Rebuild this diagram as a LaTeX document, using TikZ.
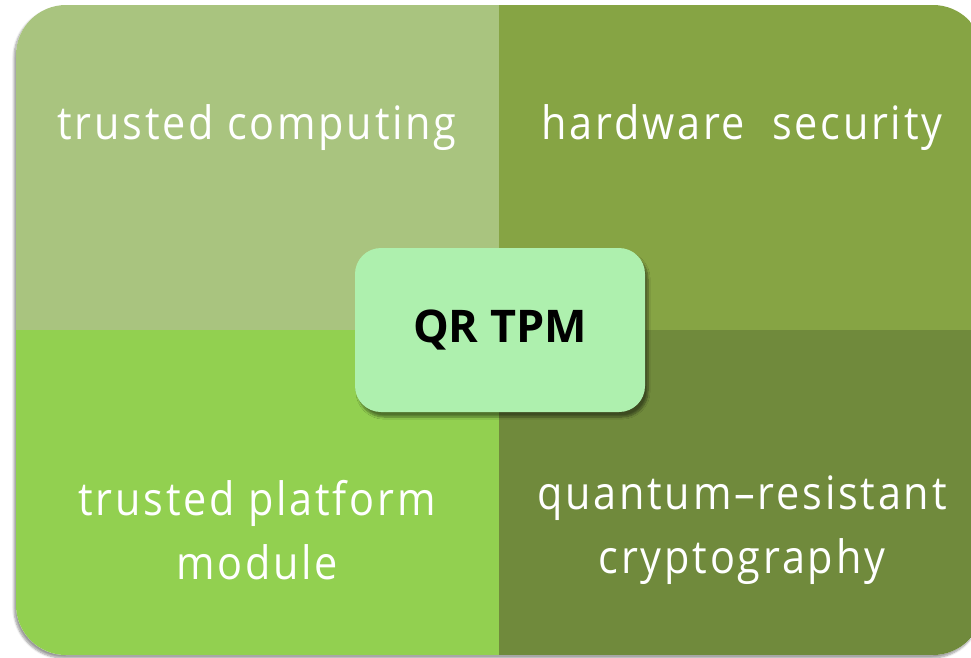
\documentclass[tikz,border=0pt]{standalone}
\usepackage{fontspec}
\setmainfont{Open Sans}
\usetikzlibrary{shadows.blur}
\definecolor{qTL}{RGB}{169,196,127}
\definecolor{qTR}{RGB}{134,164,68}
\definecolor{qBL}{RGB}{146,208,80}
\definecolor{qBR}{RGB}{112,138,60}
\definecolor{qC}{RGB}{174,240,174}
\newfontfamily\spacedfont[LetterSpace=6,FakeStretch=0.9]{Open Sans}
\tikzset{
  quadtext/.style={text=white, align=center, font=\spacedfont\fontsize{46}{64}\selectfont},
  centerbox/.style={fill=qC, rounded corners=26pt, minimum width=290pt, minimum height=164pt,
    font=\fontsize{45}{54}\selectfont\bfseries, text=black,
    blur shadow={shadow xshift=3pt, shadow yshift=-5pt, shadow blur steps=8, shadow opacity=45}},
}
\begin{document}
\begin{tikzpicture}[x=1pt,y=-1pt]
\useasboundingbox (0,0) rectangle (971,657);
\path[fill=white, rounded corners=50pt,
  blur shadow={shadow xshift=-2pt, shadow yshift=-3pt, shadow blur steps=6, shadow opacity=40}]
  (16,5) rectangle (983,655);
\begin{scope}
  \clip[rounded corners=50pt] (16,5) rectangle (983,655);
  \fill[qTL] (16,5) rectangle (499,330);
  \fill[qTR] (499,5) rectangle (983,330);
  \fill[qBL] (16,330) rectangle (499,655);
  \fill[qBR] (499,330) rectangle (983,655);
\end{scope}
\node[quadtext] (tc) at (257,128) {trusted computing};
\node[quadtext] (hs) at (742,128) {hardware\ \ security};
\node[quadtext] (tpm) at (257,530) {trusted platform\\module};
\node[quadtext] (qrc) at (742,530) {quantum–resistant\\cryptography};
\node[centerbox] (c) at (500,330) {QR TPM};
\end{tikzpicture}
\end{document}
